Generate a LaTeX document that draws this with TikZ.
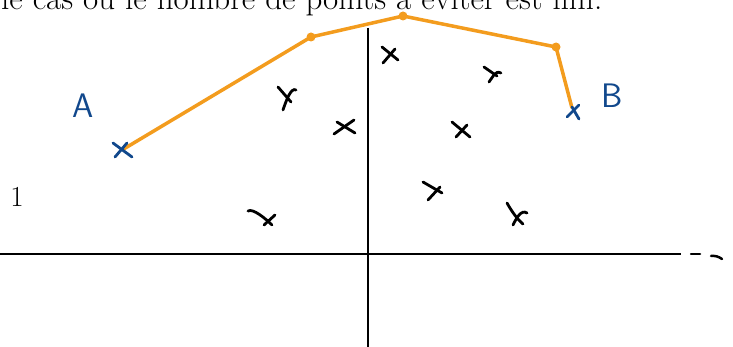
\documentclass[tikz,border=0pt]{standalone}
\usepackage{fontspec}
\definecolor{pathorange}{HTML}{F39C1E}
\definecolor{inkblue}{HTML}{11488C}
\begin{document}
\begin{tikzpicture}[
  x=1pt, y=-1pt,
  axis/.style={black, line width=2.5pt},
  ink stroke/.style={black, line width=2.8pt, line cap=round},
  blue stroke/.style={inkblue, line width=2.8pt, line cap=round},
  orange edge/.style={pathorange, line width=3.5pt, line join=round},
  dot/.style={circle, fill=pathorange, inner sep=0pt, minimum size=9pt},
  hand label/.style={inkblue, font=\sffamily\fontsize{34}{40}\selectfont, inner sep=0pt}
]
  \useasboundingbox (0,0) rectangle (733,347);

  % Cut-off text line and the "1"
  \node[anchor=base west, inner sep=0pt, font=\fontsize{33}{40}\selectfont] (txt) at (1,10)
    {le cas où le nombre de points à éviter est fini.};
  \node[inner sep=0pt, font=\fontsize{29}{34}\selectfont] (one) at (17,197) {1};

  % Axes
  \coordinate (xl) at (0,254);
  \coordinate (xr) at (681,254);
  \coordinate (yt) at (368,28);
  \coordinate (yb) at (368,347);
  \coordinate (d1) at (691,254);
  \coordinate (d2) at (700,254);
  \coordinate (d3) at (711,256);
  \coordinate (d4) at (722,259);
  \draw[axis] (xl) -- (xr);
  \draw[axis] (yt) -- (yb);
  \draw[axis, line cap=round] (d1) -- (d2);
  \draw[axis, line cap=round] (d3) to[bend left=20] (d4);

  % Points to avoid
  \coordinate (x1) at (286,98);
  \coordinate (x2) at (345,127);
  \coordinate (x3) at (261,216);
  \coordinate (x4) at (390,54);
  \coordinate (x5) at (492,72);
  \coordinate (x6) at (461,130);
  \coordinate (x7) at (432,191);
  \coordinate (x8) at (516,214);

  \draw[ink stroke] (x1) ++(-8,-11) -- ++(13,15);
  \draw[ink stroke] (x1) ++(10,-8) .. controls ++(-5,-3) and ++(3,-9) .. ++(-13,20);
  \draw[ink stroke] (x2) ++(-11,7) -- ++(20,-14);
  \draw[ink stroke] (x2) ++(-8,-5) -- ++(18,11);
  \draw[ink stroke] (x3) ++(-13,-5) .. controls ++(5,-3) and ++(-6,-6) .. ++(24,14);
  \draw[ink stroke] (x3) ++(3,9) -- ++(11,-10);
  \draw[ink stroke] (x4) ++(-8,-7) -- ++(16,13);
  \draw[ink stroke] (x4) ++(5,-5) -- ++(-12,14);
  \draw[ink stroke] (x5) ++(-8,-5) -- ++(13,9);
  \draw[ink stroke] (x5) ++(9,1) .. controls ++(-6,-3) and ++(4,-5) .. ++(-12,9);
  \draw[ink stroke] (x6) ++(-9,-8) -- ++(18,15);
  \draw[ink stroke] (x6) ++(6,-5) -- ++(-11,12);
  \draw[ink stroke] (x7) ++(-9,-9) -- ++(19,11);
  \draw[ink stroke] (x7) ++(8,-4) -- ++(-12,13);
  \draw[ink stroke] (x8) ++(-9,-11) .. controls ++(5,9) and ++(-5,-4) .. ++(16,21);
  \draw[ink stroke] (x8) ++(11,-1) .. controls ++(-6,-4) and ++(3,-6) .. ++(-14,12);

  % End points A and B
  \coordinate (a) at (122,150);
  \coordinate (b) at (572,108);
  \node[hand label] (la) at (83,106) {A};
  \node[hand label] (lb) at (612,96) {B};

  % Path around the points
  \node[dot] (p1) at (311,37) {};
  \node[dot] (p2) at (403,16) {};
  \node[dot] (p3) at (556,47) {};
  \draw[orange edge] (a) -- (p1.center) -- (p2.center) -- (p3.center) -- (b);

  \draw[blue stroke] (a) ++(-9,-7) -- ++(19,14);
  \draw[blue stroke] (a) ++(5,-7) -- ++(-12,14);
  \draw[blue stroke] (b) ++(-5,9) -- ++(12,-12);
  \draw[blue stroke] (b) ++(0,-1) -- ++(7,12);

\end{tikzpicture}
\end{document}
